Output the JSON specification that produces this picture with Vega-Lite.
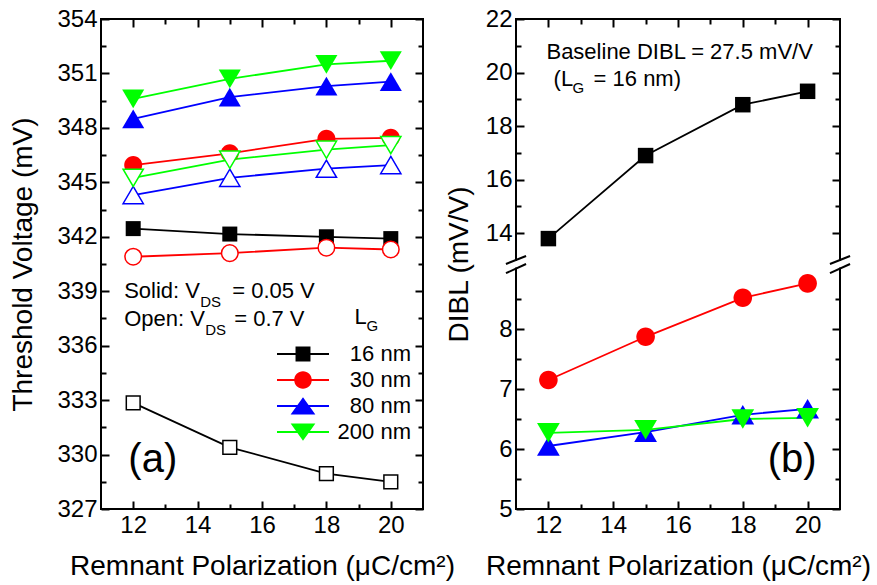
{
  "$schema": "https://vega.github.io/schema/vega-lite/v6.json",
  "padding": {"left": 8, "top": 6, "right": 5, "bottom": 5},
  "config": {
    "font": "Liberation Sans",
    "view": {"stroke": "black", "strokeWidth": 2},
    "axis": {"grid": false, "domain": false, "tickColor": "black", "tickWidth": 2, "labelColor": "black", "titleColor": "black", "labelFontSize": 24, "titleFontSize": 28, "titleFontWeight": "normal", "labelOverlap": false, "labelFlush": false},
    "text": {"align": "left", "baseline": "alphabetic", "fontSize": 22, "fontWeight": "normal"}
  },
  "bounds": "flush",
  "spacing": 93,
  "resolve": {"scale": {"color": "independent", "shape": "independent"}},
  "hconcat": [
    {
      "width": 322,
      "height": 490,
      "data": {"values": [
        {"rp": 12, "vt": 342.45, "lg": "16 nm", "vds": "solid"},
        {"rp": 15, "vt": 342.15, "lg": "16 nm", "vds": "solid"},
        {"rp": 18, "vt": 342.0, "lg": "16 nm", "vds": "solid"},
        {"rp": 20, "vt": 341.9, "lg": "16 nm", "vds": "solid"},
        {"rp": 12, "vt": 345.95, "lg": "30 nm", "vds": "solid"},
        {"rp": 15, "vt": 346.6, "lg": "30 nm", "vds": "solid"},
        {"rp": 18, "vt": 347.4, "lg": "30 nm", "vds": "solid"},
        {"rp": 20, "vt": 347.45, "lg": "30 nm", "vds": "solid"},
        {"rp": 12, "vt": 348.5, "lg": "80 nm", "vds": "solid"},
        {"rp": 15, "vt": 349.7, "lg": "80 nm", "vds": "solid"},
        {"rp": 18, "vt": 350.3, "lg": "80 nm", "vds": "solid"},
        {"rp": 20, "vt": 350.55, "lg": "80 nm", "vds": "solid"},
        {"rp": 12, "vt": 349.6, "lg": "200 nm", "vds": "solid"},
        {"rp": 15, "vt": 350.7, "lg": "200 nm", "vds": "solid"},
        {"rp": 18, "vt": 351.5, "lg": "200 nm", "vds": "solid"},
        {"rp": 20, "vt": 351.7, "lg": "200 nm", "vds": "solid"},
        {"rp": 12, "vt": 332.85, "lg": "16 nm", "vds": "open"},
        {"rp": 15, "vt": 330.4, "lg": "16 nm", "vds": "open"},
        {"rp": 18, "vt": 328.95, "lg": "16 nm", "vds": "open"},
        {"rp": 20, "vt": 328.5, "lg": "16 nm", "vds": "open"},
        {"rp": 12, "vt": 340.9, "lg": "30 nm", "vds": "open"},
        {"rp": 15, "vt": 341.1, "lg": "30 nm", "vds": "open"},
        {"rp": 18, "vt": 341.4, "lg": "30 nm", "vds": "open"},
        {"rp": 20, "vt": 341.3, "lg": "30 nm", "vds": "open"},
        {"rp": 12, "vt": 344.3, "lg": "80 nm", "vds": "open"},
        {"rp": 15, "vt": 345.25, "lg": "80 nm", "vds": "open"},
        {"rp": 18, "vt": 345.75, "lg": "80 nm", "vds": "open"},
        {"rp": 20, "vt": 345.95, "lg": "80 nm", "vds": "open"},
        {"rp": 12, "vt": 345.25, "lg": "200 nm", "vds": "open"},
        {"rp": 15, "vt": 346.25, "lg": "200 nm", "vds": "open"},
        {"rp": 18, "vt": 346.8, "lg": "200 nm", "vds": "open"},
        {"rp": 20, "vt": 347.05, "lg": "200 nm", "vds": "open"}
      ]},
      "resolve": {"axis": {"x": "independent", "y": "independent"}},
      "layer": [
        {
          "mark": {"type": "line", "strokeWidth": 1.8},
          "encoding": {
            "x": {"field": "rp", "type": "quantitative", "scale": {"domain": [11, 21], "nice": false, "zero": false},
              "axis": {"orient": "bottom", "values": [12, 13, 14, 15, 16, 17, 18, 19, 20], "labelExpr": "datum.value % 2 === 0 ? datum.label : ''", "tickSize": {"condition": {"test": "datum.value % 2 === 0", "value": -8}, "value": -5}, "labelPadding": 12, "title": "Remnant Polarization (μC/cm²)", "titlePadding": 12}},
            "y": {"field": "vt", "type": "quantitative", "scale": {"domain": [327, 354], "nice": false, "zero": false},
              "axis": {"orient": "left", "values": [327, 328.5, 330, 331.5, 333, 334.5, 336, 337.5, 339, 340.5, 342, 343.5, 345, 346.5, 348, 349.5, 351, 352.5, 354], "labelExpr": "(datum.value - 327) % 3 === 0 ? datum.label : ''", "tickSize": {"condition": {"test": "(datum.value - 327) % 3 === 0", "value": -8}, "value": -5}, "labelPadding": 12, "title": "Threshold Voltage (mV)", "titlePadding": 19}},
            "color": {"field": "lg", "type": "nominal", "scale": {"domain": ["16 nm", "30 nm", "80 nm", "200 nm"], "range": ["#000000", "#ff0000", "#0000ff", "#00ff00"]}},
            "detail": {"field": "vds"}
          }
        },
        {
          "transform": [{"filter": "datum.vds === 'solid' && datum.lg === '16 nm'"}],
          "mark": {"type": "point", "shape": "square", "filled": true, "color": "#000000", "opacity": 1, "size": 225},
          "encoding": {
            "x": {"field": "rp", "type": "quantitative",
              "axis": {"orient": "top", "values": [12, 13, 14, 15, 16, 17, 18, 19, 20], "labels": false, "tickSize": {"condition": {"test": "datum.value % 2 === 0", "value": -8}, "value": -5}, "title": null}},
            "y": {"field": "vt", "type": "quantitative",
              "axis": {"orient": "right", "values": [327, 328.5, 330, 331.5, 333, 334.5, 336, 337.5, 339, 340.5, 342, 343.5, 345, 346.5, 348, 349.5, 351, 352.5, 354], "labels": false, "tickSize": {"condition": {"test": "(datum.value - 327) % 3 === 0", "value": -8}, "value": -5}, "title": null}}
          }
        },
        {
          "transform": [{"filter": "datum.vds === 'solid' && datum.lg === '30 nm'"}],
          "mark": {"type": "point", "shape": "M1.2,0A1.2,1.2,0,1,1,-1.2,0A1.2,1.2,0,1,1,1.2,0Z", "filled": true, "color": "#ff0000", "opacity": 1, "size": 225},
          "encoding": {"x": {"field": "rp", "type": "quantitative", "axis": null}, "y": {"field": "vt", "type": "quantitative", "axis": null}}
        },
        {
          "transform": [{"filter": "datum.vds === 'solid' && datum.lg === '80 nm'"}],
          "mark": {"type": "point", "shape": "M0,-1.25L1.47,1.25L-1.47,1.25Z", "filled": true, "color": "#0000ff", "opacity": 1, "size": 225},
          "encoding": {"x": {"field": "rp", "type": "quantitative", "axis": null}, "y": {"field": "vt", "type": "quantitative", "axis": null}}
        },
        {
          "transform": [{"filter": "datum.vds === 'solid' && datum.lg === '200 nm'"}],
          "mark": {"type": "point", "shape": "M0,1.25L1.47,-1.25L-1.47,-1.25Z", "filled": true, "color": "#00ff00", "opacity": 1, "size": 225},
          "encoding": {"x": {"field": "rp", "type": "quantitative", "axis": null}, "y": {"field": "vt", "type": "quantitative", "axis": null}}
        },
        {
          "transform": [{"filter": "datum.vds === 'open' && datum.lg === '16 nm'"}],
          "mark": {"type": "point", "shape": "square", "filled": false, "fill": "white", "fillOpacity": 1, "color": "#000000", "strokeWidth": 1.5, "opacity": 1, "size": 190},
          "encoding": {"x": {"field": "rp", "type": "quantitative", "axis": null}, "y": {"field": "vt", "type": "quantitative", "axis": null}}
        },
        {
          "transform": [{"filter": "datum.vds === 'open' && datum.lg === '30 nm'"}],
          "mark": {"type": "point", "shape": "M1.2,0A1.2,1.2,0,1,1,-1.2,0A1.2,1.2,0,1,1,1.2,0Z", "filled": false, "fill": "white", "fillOpacity": 1, "color": "#ff0000", "strokeWidth": 1.5, "opacity": 1, "size": 190},
          "encoding": {"x": {"field": "rp", "type": "quantitative", "axis": null}, "y": {"field": "vt", "type": "quantitative", "axis": null}}
        },
        {
          "transform": [{"filter": "datum.vds === 'open' && datum.lg === '80 nm'"}],
          "mark": {"type": "point", "shape": "M0,-1.25L1.47,1.25L-1.47,1.25Z", "filled": false, "fill": "white", "fillOpacity": 1, "color": "#0000ff", "strokeWidth": 1.5, "opacity": 1, "size": 190},
          "encoding": {"x": {"field": "rp", "type": "quantitative", "axis": null}, "y": {"field": "vt", "type": "quantitative", "axis": null}}
        },
        {
          "transform": [{"filter": "datum.vds === 'open' && datum.lg === '200 nm'"}],
          "mark": {"type": "point", "shape": "M0,1.25L1.47,-1.25L-1.47,-1.25Z", "filled": false, "fill": "white", "fillOpacity": 1, "color": "#00ff00", "strokeWidth": 1.5, "opacity": 1, "size": 190},
          "encoding": {"x": {"field": "rp", "type": "quantitative", "axis": null}, "y": {"field": "vt", "type": "quantitative", "axis": null}}
        },
        {
          "transform": [{"filter": "false"}],
          "mark": {"type": "point", "filled": true, "opacity": 1},
          "encoding": {
            "x": {"field": "rp", "type": "quantitative", "axis": null},
            "y": {"field": "vt", "type": "quantitative", "axis": null},
            "color": {"field": "lg", "type": "nominal",
              "legend": {"orient": "none", "legendX": 191, "legendY": 324, "title": null, "labelFontSize": 22, "labelColor": "black", "labelAlign": "right", "labelOffset": 97, "symbolSize": 169, "symbolStrokeWidth": 0, "rowPadding": 4, "padding": 0}},
            "shape": {"field": "lg", "type": "nominal",
              "scale": {"domain": ["16 nm", "30 nm", "80 nm", "200 nm"], "range": [
                "M-4,-0.14H4V0.14H-4ZM-1.15,-1.15H1.15V1.15H-1.15Z",
                "M-4,-0.14H4V0.14H-4ZM1.35,0A1.35,1.35,0,1,1,-1.35,0A1.35,1.35,0,1,1,1.35,0Z",
                "M-4,-0.14H4V0.14H-4ZM0,-1.35L1.9,1.3H-1.9Z",
                "M-4,-0.14H4V0.14H-4ZM0,1.35L-1.9,-1.3H1.9Z"]},
              "legend": {"orient": "none", "legendX": 191, "legendY": 324, "title": null, "labelFontSize": 22, "labelColor": "black", "labelAlign": "right", "labelOffset": 97, "symbolSize": 169, "symbolStrokeWidth": 0, "rowPadding": 4, "padding": 0}}
          }
        },
        {"data": {"values": [{}]}, "mark": {"type": "text", "text": "Solid: V"}, "encoding": {"x": {"datum": 11.72, "type": "quantitative", "axis": null}, "y": {"datum": 338.63, "type": "quantitative", "axis": null}}},
        {"data": {"values": [{}]}, "mark": {"type": "text", "text": "DS", "fontSize": 15, "dx": 76, "dy": 9}, "encoding": {"x": {"datum": 11.72, "type": "quantitative", "axis": null}, "y": {"datum": 338.63, "type": "quantitative", "axis": null}}},
        {"data": {"values": [{}]}, "mark": {"type": "text", "text": "= 0.05 V", "dx": 108}, "encoding": {"x": {"datum": 11.72, "type": "quantitative", "axis": null}, "y": {"datum": 338.63, "type": "quantitative", "axis": null}}},
        {"data": {"values": [{}]}, "mark": {"type": "text", "text": "Open: V"}, "encoding": {"x": {"datum": 11.72, "type": "quantitative", "axis": null}, "y": {"datum": 337.09, "type": "quantitative", "axis": null}}},
        {"data": {"values": [{}]}, "mark": {"type": "text", "text": "DS", "fontSize": 15, "dx": 81, "dy": 9}, "encoding": {"x": {"datum": 11.72, "type": "quantitative", "axis": null}, "y": {"datum": 337.09, "type": "quantitative", "axis": null}}},
        {"data": {"values": [{}]}, "mark": {"type": "text", "text": "= 0.7 V", "dx": 110}, "encoding": {"x": {"datum": 11.72, "type": "quantitative", "axis": null}, "y": {"datum": 337.09, "type": "quantitative", "axis": null}}},
        {"data": {"values": [{}]}, "mark": {"type": "text", "text": "L"}, "encoding": {"x": {"datum": 18.87, "type": "quantitative", "axis": null}, "y": {"datum": 337.2, "type": "quantitative", "axis": null}}},
        {"data": {"values": [{}]}, "mark": {"type": "text", "text": "G", "fontSize": 15, "dx": 12, "dy": 7}, "encoding": {"x": {"datum": 18.87, "type": "quantitative", "axis": null}, "y": {"datum": 337.2, "type": "quantitative", "axis": null}}},
        {"data": {"values": [{}]}, "mark": {"type": "text", "text": "(a)", "fontSize": 40}, "encoding": {"x": {"datum": 11.85, "type": "quantitative", "axis": null}, "y": {"datum": 329.05, "type": "quantitative", "axis": null}}}
      ]
    },
    {
      "width": 324,
      "height": 490,
      "data": {"values": [
        {"rp": 12, "dibl": 13.8, "lg": "16 nm"},
        {"rp": 15, "dibl": 16.9, "lg": "16 nm"},
        {"rp": 18, "dibl": 18.8, "lg": "16 nm"},
        {"rp": 20, "dibl": 19.3, "lg": "16 nm"},
        {"rp": 12, "dibl": 7.15, "lg": "30 nm"},
        {"rp": 15, "dibl": 7.87, "lg": "30 nm"},
        {"rp": 18, "dibl": 8.52, "lg": "30 nm"},
        {"rp": 20, "dibl": 8.76, "lg": "30 nm"},
        {"rp": 12, "dibl": 6.05, "lg": "80 nm"},
        {"rp": 15, "dibl": 6.28, "lg": "80 nm"},
        {"rp": 18, "dibl": 6.57, "lg": "80 nm"},
        {"rp": 20, "dibl": 6.67, "lg": "80 nm"},
        {"rp": 12, "dibl": 6.27, "lg": "200 nm"},
        {"rp": 15, "dibl": 6.32, "lg": "200 nm"},
        {"rp": 18, "dibl": 6.5, "lg": "200 nm"},
        {"rp": 20, "dibl": 6.52, "lg": "200 nm"}
      ]},
      "resolve": {"axis": {"x": "independent", "y": "independent"}},
      "layer": [
        {
          "mark": {"type": "line", "strokeWidth": 1.8},
          "encoding": {
            "x": {"field": "rp", "type": "quantitative", "scale": {"domain": [11, 21], "nice": false, "zero": false},
              "axis": {"orient": "bottom", "values": [12, 13, 14, 15, 16, 17, 18, 19, 20], "labelExpr": "datum.value % 2 === 0 ? datum.label : ''", "tickSize": {"condition": {"test": "datum.value % 2 === 0", "value": -8}, "value": -5}, "labelPadding": 12, "title": "Remnant Polarization (μC/cm²)", "titlePadding": 12}},
            "y": {"field": "dibl", "type": "quantitative", "scale": {"domain": [5, 9, 13.15, 22], "range": [490, 250, 237, 0], "nice": false, "zero": false},
              "axis": {"orient": "left", "values": [5, 5.5, 6, 6.5, 7, 7.5, 8, 8.5, 14, 15, 16, 17, 18, 19, 20, 21, 22], "labelExpr": "(datum.value % 1 === 0 && (datum.value < 10 || datum.value % 2 === 0)) ? datum.label : ''", "tickSize": {"condition": {"test": "datum.value % 1 === 0 && (datum.value < 10 || datum.value % 2 === 0)", "value": -8}, "value": -5}, "labelPadding": 12, "title": "DIBL (mV/V)", "titlePadding": 12}},
            "color": {"field": "lg", "type": "nominal", "scale": {"domain": ["16 nm", "30 nm", "80 nm", "200 nm"], "range": ["#000000", "#ff0000", "#0000ff", "#00ff00"]}, "legend": null}
          }
        },
        {
          "mark": {"type": "point", "filled": true, "opacity": 1, "size": 240},
          "encoding": {
            "x": {"field": "rp", "type": "quantitative",
              "axis": {"orient": "top", "values": [12, 13, 14, 15, 16, 17, 18, 19, 20], "labels": false, "tickSize": {"condition": {"test": "datum.value % 2 === 0", "value": -8}, "value": -5}, "title": null}},
            "y": {"field": "dibl", "type": "quantitative",
              "axis": {"orient": "right", "values": [5, 5.5, 6, 6.5, 7, 7.5, 8, 8.5, 14, 15, 16, 17, 18, 19, 20, 21, 22], "labels": false, "tickSize": {"condition": {"test": "datum.value % 1 === 0 && (datum.value < 10 || datum.value % 2 === 0)", "value": -8}, "value": -5}, "title": null}},
            "color": {"field": "lg", "type": "nominal", "legend": null},
            "shape": {"field": "lg", "type": "nominal", "scale": {"domain": ["16 nm", "30 nm", "80 nm", "200 nm"], "range": ["square", "M1.2,0A1.2,1.2,0,1,1,-1.2,0A1.2,1.2,0,1,1,1.2,0Z", "M0,-1.25L1.47,1.25L-1.47,1.25Z", "M0,1.25L1.47,-1.25L-1.47,-1.25Z"]}, "legend": null}
          }
        },
        {"data": {"values": [{}]}, "mark": {"type": "rule", "color": "white", "strokeWidth": 5}, "encoding": {"x": {"datum": 11, "type": "quantitative", "axis": null}, "y": {"datum": 9.45, "type": "quantitative", "axis": null}, "y2": {"datum": 11.6}}},
        {"data": {"values": [{}]}, "mark": {"type": "rule", "color": "white", "strokeWidth": 5}, "encoding": {"x": {"datum": 21, "type": "quantitative", "axis": null}, "y": {"datum": 9.45, "type": "quantitative", "axis": null}, "y2": {"datum": 11.6}}},
        {"data": {"values": [{}]}, "mark": {"type": "rule", "color": "black", "strokeWidth": 2}, "encoding": {"x": {"datum": 10.69, "type": "quantitative", "axis": null}, "x2": {"datum": 11.31}, "y": {"datum": 10.6, "type": "quantitative", "axis": null}, "y2": {"datum": 13.15}}},
        {"data": {"values": [{}]}, "mark": {"type": "rule", "color": "black", "strokeWidth": 2}, "encoding": {"x": {"datum": 10.69, "type": "quantitative", "axis": null}, "x2": {"datum": 11.31}, "y": {"datum": 8.93, "type": "quantitative", "axis": null}, "y2": {"datum": 10.6}}},
        {"data": {"values": [{}]}, "mark": {"type": "rule", "color": "black", "strokeWidth": 2}, "encoding": {"x": {"datum": 20.69, "type": "quantitative", "axis": null}, "x2": {"datum": 21.31}, "y": {"datum": 10.6, "type": "quantitative", "axis": null}, "y2": {"datum": 13.15}}},
        {"data": {"values": [{}]}, "mark": {"type": "rule", "color": "black", "strokeWidth": 2}, "encoding": {"x": {"datum": 20.69, "type": "quantitative", "axis": null}, "x2": {"datum": 21.31}, "y": {"datum": 8.93, "type": "quantitative", "axis": null}, "y2": {"datum": 10.6}}},
        {"data": {"values": [{}]}, "mark": {"type": "text", "text": "Baseline DIBL = 27.5 mV/V", "fontSize": 22}, "encoding": {"x": {"datum": 11.94, "type": "quantitative", "axis": null}, "y": {"datum": 20.51, "type": "quantitative", "axis": null}}},
        {"data": {"values": [{}]}, "mark": {"type": "text", "text": "(L", "fontSize": 22}, "encoding": {"x": {"datum": 12.16, "type": "quantitative", "axis": null}, "y": {"datum": 19.51, "type": "quantitative", "axis": null}}},
        {"data": {"values": [{}]}, "mark": {"type": "text", "text": "G", "fontSize": 15, "dx": 19, "dy": 7}, "encoding": {"x": {"datum": 12.16, "type": "quantitative", "axis": null}, "y": {"datum": 19.51, "type": "quantitative", "axis": null}}},
        {"data": {"values": [{}]}, "mark": {"type": "text", "text": "= 16 nm)", "fontSize": 22, "dx": 40}, "encoding": {"x": {"datum": 12.16, "type": "quantitative", "axis": null}, "y": {"datum": 19.51, "type": "quantitative", "axis": null}}},
        {"data": {"values": [{}]}, "mark": {"type": "text", "text": "(b)", "fontSize": 40}, "encoding": {"x": {"datum": 18.77, "type": "quantitative", "axis": null}, "y": {"datum": 5.61, "type": "quantitative", "axis": null}}}
      ]
    }
  ]
}
